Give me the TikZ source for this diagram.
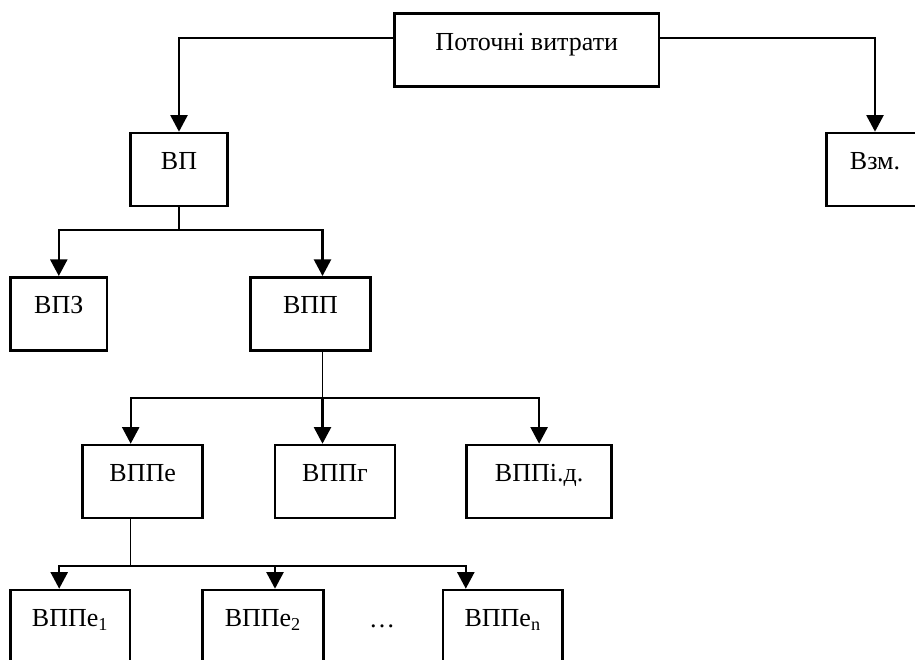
\documentclass[tikz,border=0pt]{standalone}
\usepackage{fontspec}
\setmainfont{Liberation Serif}
\usepackage{tikz}
\usetikzlibrary{positioning,arrows.meta,calc}

\begin{document}
\begin{tikzpicture}[
  font=\fontsize{14.8pt}{17pt}\selectfont,
  % ── node styles ──────────────────────────────────────────
  box/.style={
    rectangle, draw, line width=1.5pt,
    inner sep=0pt, text height=0.73cm, text depth=0.73cm,
    align=center
  },
  % ── link styles ──────────────────────────────────────────
  arr/.style={line width=1.2pt,
    -{Triangle[length=0.33cm,width=0.34cm]}},
  stem/.style={line width=0.8pt},
]
\useasboundingbox (0,0) rectangle (18.3,-13.18);

%% ── TOP LEVEL ────────────────────────────────────────────────
\node[box, minimum width=5.29cm] (top) at (10.535,-1.0) {Поточні витрати};
\node[box, minimum width=1.93cm] (VP)  at (3.58,-3.39)  {ВП};
\node[box, minimum width=1.93cm] (Vzm) at (17.5,-3.39)  {Взм.};

%% ── SECOND LEVEL ─────────────────────────────────────────────
\node[box, minimum width=1.93cm] (VPZ) at (1.176,-6.276) {ВПЗ};
\node[box, minimum width=2.39cm] (VPP) at (6.21,-6.276)  {ВПП};

%% ── THIRD LEVEL ──────────────────────────────────────────────
\node[box, minimum width=2.40cm] (VPPe)  at (2.854,-9.63) {ВППе};
\node[box, minimum width=2.40cm] (VPPg)  at (6.70,-9.63)  {ВППг};
\node[box, minimum width=2.90cm] (VPPid) at (10.782,-9.63) {ВППі.д.};

%% ── FOURTH LEVEL ─────────────────────────────────────────────
\node[box, minimum width=2.39cm] (VPPe1) at (1.404,-12.53) {ВППе\textsubscript{1}};
\node[box, minimum width=2.41cm] (VPPe2) at (5.26,-12.53)  {ВППе\textsubscript{2}};
\node[box, minimum width=2.39cm] (VPPen) at (10.056,-12.53) {ВППе\textsubscript{n}};
\node[anchor=base, inner sep=0pt] (dots) at (7.64,-12.54) {\ldots};

%% ── JUNCTION ROWS ────────────────────────────────────────────
\coordinate (r1) at (0,-4.6);
\coordinate (r2) at (0,-7.96);
\coordinate (r3) at (0,-11.32);
\coordinate (b2) at ([xshift=0.24cm]VPP.south);
\coordinate (b3) at ([xshift=-0.24cm]VPPe.south);

%% ── LINKS ────────────────────────────────────────────────────
\draw[arr] ([yshift=0.24cm]top.west) -| (VP);
\draw[arr] ([yshift=0.24cm]top.east) -| (Vzm);

\draw[stem] (VP.south) -- (VP |- r1);
\draw[arr] (VP |- r1) -| (VPZ);
\draw[arr] (VP |- r1) -| ([xshift=0.24cm]VPP.north);

\draw[stem] (b2) -- (b2 |- r2);
\draw[arr] (b2 |- r2) -| ([xshift=-0.24cm]VPPe.north);
\draw[arr] (b2 |- r2) -- (b2 |- VPPg.north);
\draw[arr] (b2 |- r2) -| (VPPid);

\draw[stem] (b3) -- (b3 |- r3);
\draw[arr] (b3 |- r3) -| ([xshift=-0.22cm]VPPe1.north);
\draw[arr] (b3 |- r3) -| ([xshift=0.24cm]VPPe2.north);
\draw[arr] (b3 |- r3) -| ([xshift=-0.74cm]VPPen.north);

\end{tikzpicture}
\end{document}
